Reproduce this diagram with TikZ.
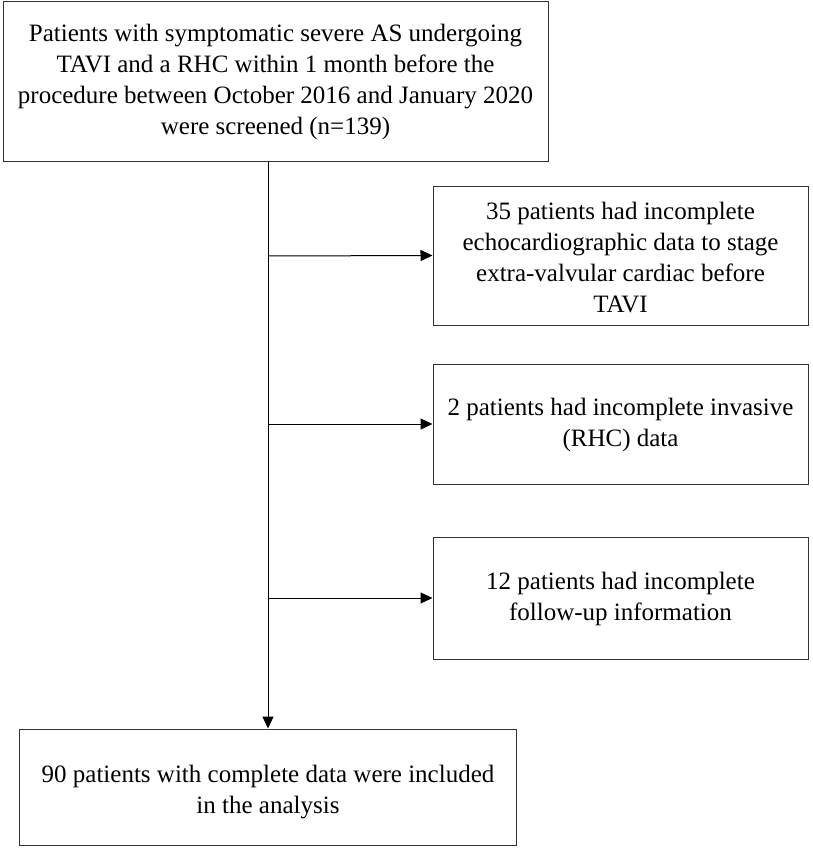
\documentclass[tikz,border=0pt]{standalone}
\usepackage{fontspec}
\setmainfont{Liberation Serif}
\usetikzlibrary{arrows.meta}

\begin{document}
\begin{tikzpicture}[x=1pt,y=-1pt,
	box/.style={draw=black!80, line width=1pt, inner sep=0pt},
	boxtext/.style={inner sep=0pt, align=center, font=\fontsize{25}{31}\selectfont},
	flow/.style={line width=1pt, -{Triangle[length=12pt,width=11pt]}}]

	\useasboundingbox (0,0) rectangle (813,848);

	% boxes
	\node (screened) [box, minimum width=545, minimum height=159] at (275.5, 81.5) {};
	\node (echo) [box, minimum width=375, minimum height=139] at (620.5, 255.5) {};
	\node (rhc) [box, minimum width=375, minimum height=120] at (620.5, 424) {};
	\node (follow) [box, minimum width=375, minimum height=122] at (620.5, 598) {};
	\node (included) [box, minimum width=497, minimum height=116] at (268, 787) {};

	% texts
	\node (screened-text) [boxtext] at (screened.center)
		{Patients with symptomatic severe AS undergoing\\TAVI and a RHC within 1 month before the\\procedure between October 2016 and January 2020\\were screened (n=139)};
	\node (echo-text) [boxtext] at ([yshift=-2pt]echo.center)
		{35 patients had incomplete\\echocardiographic data to stage\\extra-valvular cardiac before\\TAVI};
	\node (rhc-text) [boxtext] at ([yshift=-1pt]rhc.center)
		{2 patients had incomplete invasive\\(RHC) data};
	\node (follow-text) [boxtext] at ([yshift=-1pt]follow.center)
		{12 patients had incomplete\\follow-up information};
	\node (included-text) [boxtext] at ([yshift=-5pt]included.center)
		{90 patients with complete data were included\\in the analysis};

	\coordinate (j1) at (268, 256);
	\coordinate (j2) at (268, 424);
	\coordinate (j3) at (268, 598);

	\draw[flow] (screened.south -| included.north) -- (included.north);
	\draw[flow] (j1) -- (echo.west);
	\draw[flow] (j2) -- (rhc.west);
	\draw[flow] (j3) -- (follow.west);

\end{tikzpicture}
\end{document}
